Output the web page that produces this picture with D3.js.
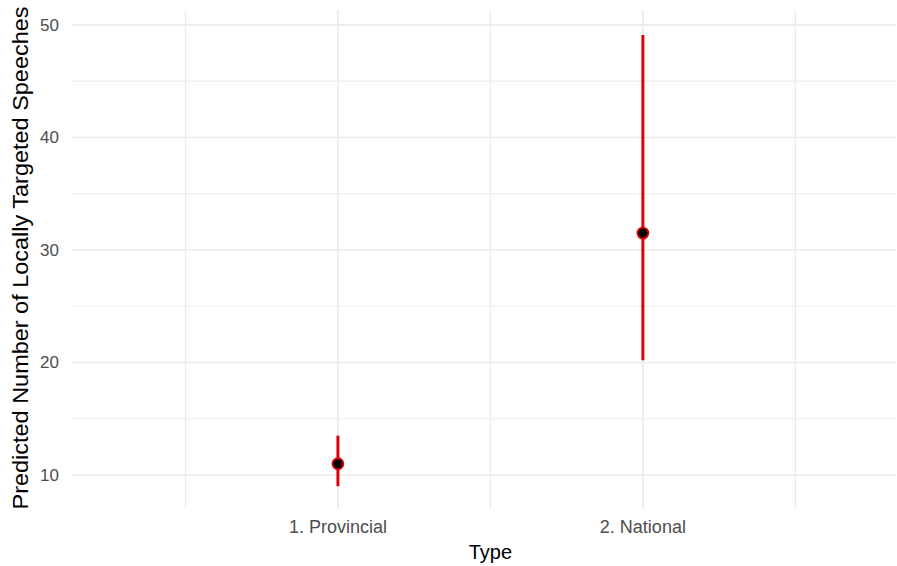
<!DOCTYPE html>
<html><head><meta charset="utf-8">
<script src="https://cdn.jsdelivr.net/npm/d3@7"></script>
<style>body{margin:0;background:#fff}svg{display:block}</style>
</head><body>
<svg id="c" width="897" height="566"></svg>
<script>
const categories = ["1. Provincial", "2. National"];
const estimates = [11.0, 31.5];
const lower = [9.0, 20.2];
const upper = [13.5, 49.1];
const yTicks = [10, 20, 30, 40, 50];
const yMinor = [15, 25, 35, 45];
const xMinor = [0.5, 1.5, 2.5];

const svg = d3.select("#c");
const P = {l:72, r:896, t:10, b:509};
const x = d3.scaleLinear().domain([0.128, 2.83]).range([P.l, P.r]);
const y = d3.scaleLinear().domain([6.98, 51.33]).range([P.b, P.t]);
const grid = "#ebebeb";
const g = svg.append("g");
g.selectAll(".hm").data(yMinor).join("line")
 .attr("x1",P.l).attr("x2",P.r).attr("y1",d=>y(d)).attr("y2",d=>y(d))
 .attr("stroke",grid).attr("stroke-width",1.2);
g.selectAll(".vm").data(xMinor).join("line")
 .attr("y1",P.t).attr("y2",P.b).attr("x1",d=>x(d)).attr("x2",d=>x(d))
 .attr("stroke",grid).attr("stroke-width",1.2);
g.selectAll(".hM").data(yTicks).join("line")
 .attr("x1",P.l).attr("x2",P.r).attr("y1",d=>y(d)).attr("y2",d=>y(d))
 .attr("stroke",grid).attr("stroke-width",1.7);
g.selectAll(".vM").data(categories).join("line")
 .attr("y1",P.t).attr("y2",P.b).attr("x1",(d,i)=>x(i+1)).attr("x2",(d,i)=>x(i+1))
 .attr("stroke",grid).attr("stroke-width",1.7);

const font = "'Liberation Sans', Arial, Helvetica, sans-serif";
svg.selectAll(".yt").data(yTicks).join("text")
 .attr("x",59).attr("y",d=>y(d)).attr("dy","0.35em").attr("text-anchor","end")
 .attr("font-family",font).attr("font-size",17).attr("fill","#4d4d4d").text(d=>d);
svg.selectAll(".xt").data(categories).join("text")
 .attr("x",(d,i)=>x(i+1)).attr("y",527).attr("dy","0.35em").attr("text-anchor","middle")
 .attr("font-family",font).attr("font-size",18).attr("fill","#4d4d4d").text(d=>d);
svg.append("text").attr("x",x(1.5)).attr("y",559).attr("text-anchor","middle")
 .attr("font-family",font).attr("font-size",20).attr("fill","#000").text("Type");
svg.append("text").attr("transform",`translate(28,258) rotate(-90)`)
 .attr("text-anchor","middle").attr("font-family",font).attr("font-size",21.5).attr("fill","#000")
 .attr("textLength",503).attr("lengthAdjust","spacingAndGlyphs")
 .text("Predicted Number of Locally Targeted Speeches");

const m = svg.append("g");
m.selectAll(".eb").data(categories).join("line")
 .attr("x1",(d,i)=>x(i+1)).attr("x2",(d,i)=>x(i+1))
 .attr("y1",(d,i)=>y(lower[i])).attr("y2",(d,i)=>y(upper[i]))
 .attr("stroke","#e0000a").attr("stroke-width",3);
m.selectAll(".pt").data(categories).join("circle")
 .attr("cx",(d,i)=>x(i+1)).attr("cy",(d,i)=>y(estimates[i])).attr("r",5.5)
 .attr("fill","#000").attr("stroke","#e0000a").attr("stroke-width",1.8);
</script>
</body></html>
